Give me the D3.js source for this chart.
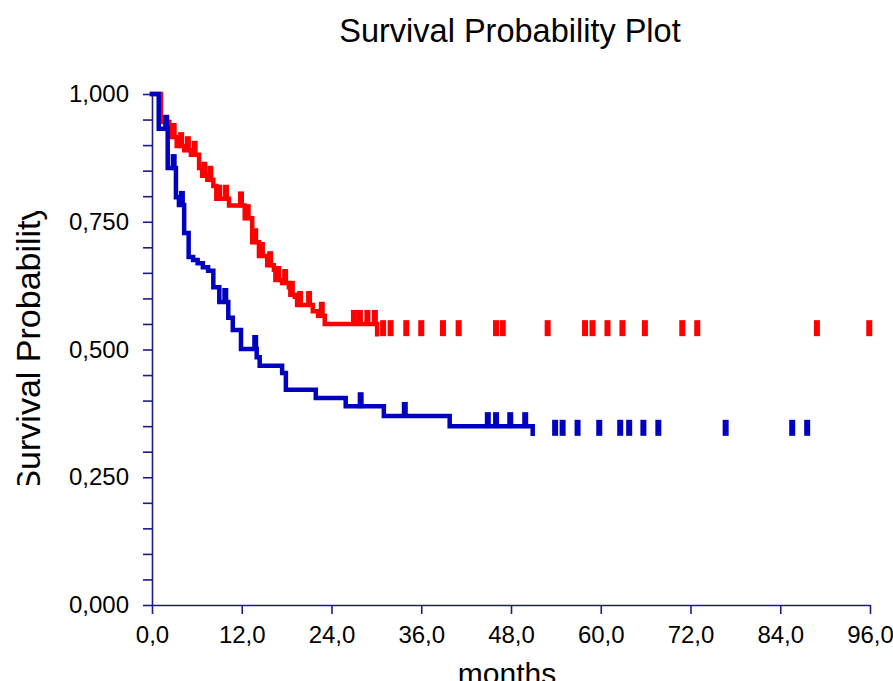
<!DOCTYPE html>
<html>
<head>
<meta charset="utf-8">
<script src="https://cdn.jsdelivr.net/npm/d3@7/dist/d3.min.js"></script>
<style>
  html, body { margin: 0; padding: 0; background: #ffffff; }
  svg { display: block; }
  text { font-family: "Liberation Sans", Arial, sans-serif; fill: #000; }
</style>
</head>
<body>
<svg id="chart" width="893" height="681"></svg>
<script>
// ---- data ----
const xTicks = [0, 12, 24, 36, 48, 60, 72, 84, 96];
const yMajorTicks = [0, 0.25, 0.5, 0.75, 1.0];

// Group 1 (red): event times (months) and survival after each event
const redTimes = [1.2, 2.3, 3.3, 4.3, 5.2, 6.3, 6.7, 7.4, 8.2, 8.6, 10.3, 12.4, 13.4, 14.3, 15.4, 16.3, 16.5, 17.4, 18.3, 18.5, 19.1, 19.4, 21.5, 22.2, 23.1, 30.1];
const redSurv  = [0.945, 0.916, 0.898, 0.890, 0.881, 0.855, 0.840, 0.832, 0.820, 0.795, 0.782, 0.757, 0.710, 0.683, 0.665, 0.656, 0.636, 0.630, 0.622, 0.607, 0.603, 0.587, 0.575, 0.566, 0.550, 0.530];
const redCensored = [2.9, 3.9, 4.8, 5.7, 7.0, 7.8, 9.0, 9.9, 11.9, 12.8, 13.8, 14.7, 15.8, 16.9, 17.8, 18.7, 19.8, 21.0, 22.7, 27.0, 27.8, 28.8, 29.8, 30.9, 31.9, 34.0, 36.0, 38.9, 41.0, 46.0, 46.9, 52.9, 57.9, 58.9, 60.9, 62.9, 65.9, 70.9, 72.9, 88.9, 95.9];

// Group 2 (blue)
const blueTimes = [0.9, 2.1, 3.2, 3.6, 4.3, 4.9, 5.5, 6.1, 6.8, 7.5, 8.2, 9.0, 10.2, 10.8, 11.9, 14.0, 14.4, 17.4, 17.9, 21.9, 25.9, 31.0, 39.8, 50.9];
const blueSurv  = [0.932, 0.855, 0.798, 0.783, 0.728, 0.681, 0.675, 0.669, 0.661, 0.654, 0.622, 0.593, 0.562, 0.538, 0.501, 0.485, 0.468, 0.454, 0.421, 0.405, 0.389, 0.370, 0.350, 0.335];
const blueCensored = [1.9, 2.9, 4.0, 9.8, 13.8, 27.9, 33.8, 44.9, 46.0, 47.9, 49.9, 53.9, 54.9, 56.9, 59.8, 62.6, 63.8, 65.7, 67.7, 76.7, 85.6, 87.6];

// ---- chart ----
const svg = d3.select("#chart");
const x = d3.scaleLinear().domain([0, 96]).range([152, 870]);
const y = d3.scaleLinear().domain([0, 1]).range([605, 94]);
const axisColor = "#1c1c86";
const comma = s => s.replace(".", ",");

// title
svg.append("text")
  .attr("x", 510).attr("y", 42)
  .attr("text-anchor", "middle")
  .style("font-size", "32.5px")
  .text("Survival Probability Plot");

// y axis label (clipped like the original)
svg.append("clipPath").attr("id", "ylabclip")
  .append("rect").attr("x", 0).attr("y", 211).attr("width", 60).attr("height", 274);
svg.append("g").attr("clip-path", "url(#ylabclip)")
  .append("text")
  .attr("transform", "translate(40,348) rotate(-90)")
  .attr("text-anchor", "middle")
  .style("font-size", "34px")
  .text("Survival Probability");

// x axis label
svg.append("text")
  .attr("x", 507).attr("y", 684)
  .attr("text-anchor", "middle")
  .style("font-size", "30px")
  .text("months");

// y axis
const yAxis = d3.axisLeft(y)
  .tickValues(d3.range(0, 21).map(i => i / 20))
  .tickSize(9).tickSizeOuter(0).tickPadding(14)
  .tickFormat(d => yMajorTicks.some(v => Math.abs(v - d) < 1e-9) ? comma(d3.format(".3f")(d)) : "");
const gy = svg.append("g").attr("transform", `translate(${x(0)},0)`).call(yAxis);
gy.select(".domain").attr("stroke", axisColor).attr("stroke-width", 1.6);
gy.selectAll(".tick line").attr("stroke", axisColor).attr("stroke-width", 1.6);
gy.selectAll(".tick text").style("font-size", "24px").attr("font-family", null);

// x axis
const xAxis = d3.axisBottom(x)
  .tickValues(xTicks)
  .tickSize(9).tickSizeOuter(0).tickPadding(12)
  .tickFormat(d => comma(d3.format(".1f")(d)));
const gx = svg.append("g").attr("transform", `translate(0,${y(0)})`).call(xAxis);
gx.select(".domain").attr("stroke", axisColor).attr("stroke-width", 1.6);
gx.selectAll(".tick line").attr("stroke", axisColor).attr("stroke-width", 1.6);
gx.selectAll(".tick text").style("font-size", "24px").attr("font-family", null);

// survival curves
function survAt(times, surv, t) {
  let s = 1;
  for (let i = 0; i < times.length; i++) { if (times[i] <= t) s = surv[i]; }
  return s;
}
function drawGroup(times, surv, censored, color) {
  const pts = [[0, 1]].concat(times.map((t, i) => [t, surv[i]]));
  const line = d3.line().x(d => x(d[0])).y(d => y(d[1])).curve(d3.curveStepAfter);
  svg.append("path")
    .datum(pts)
    .attr("d", line)
    .attr("fill", "none")
    .attr("stroke", color)
    .attr("stroke-width", 4.5)
    .attr("stroke-linecap", "square");
  svg.append("g").selectAll("rect")
    .data(censored)
    .join("rect")
    .attr("x", d => x(d) - 3)
    .attr("y", d => y(survAt(times, surv, d)) - 14)
    .attr("width", 6)
    .attr("height", 16)
    .attr("fill", color);
}
drawGroup(redTimes, redSurv, redCensored, "#ff0000");
drawGroup(blueTimes, blueSurv, blueCensored, "#0000c0");
</script>
</body>
</html>
